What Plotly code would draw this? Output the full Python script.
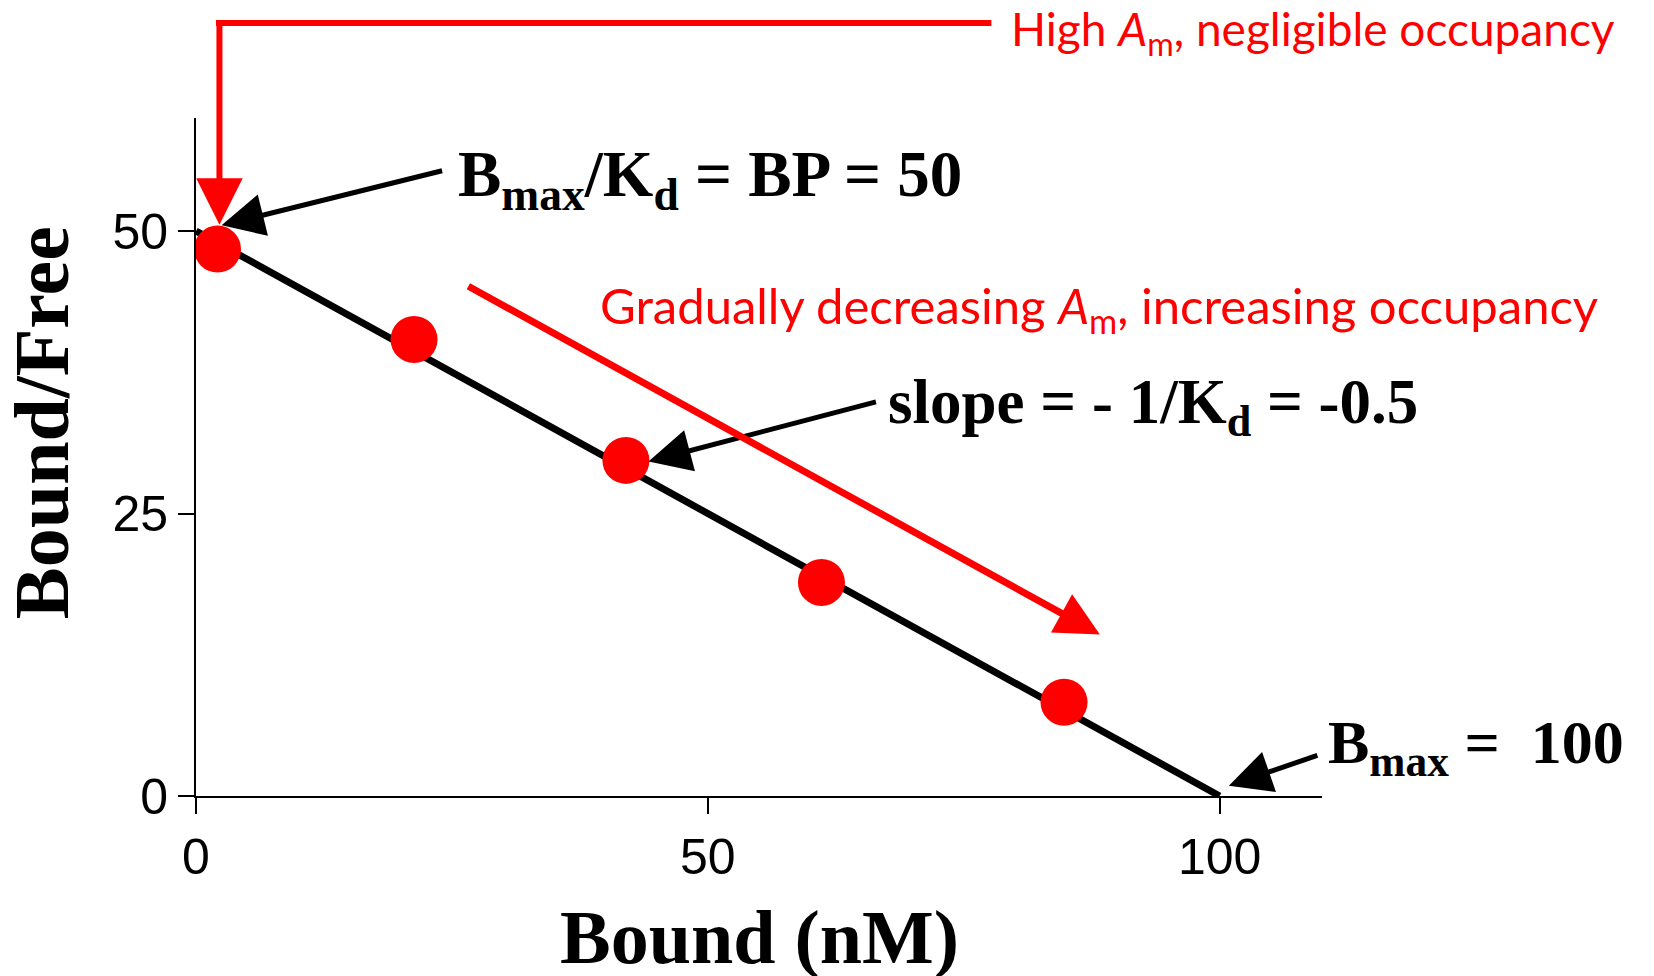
import plotly.graph_objects as go

# ---- data ----
bound = [2.1, 21.3, 42.0, 61.1, 84.8]
bound_free = [48.4, 40.4, 29.7, 18.9, 8.3]
line_bound = [0, 100]
line_bf = [50, 0]
x_ticks = [0, 50, 100]
y_ticks = [0, 25, 50]

RED = "#FF0000"
SERIF = "Liberation Serif"
SANS = "Liberation Sans"
CAL = "Lato"

fig = go.Figure()
fig.add_trace(go.Scatter(x=line_bound, y=line_bf, mode="lines",
                         line=dict(color="black", width=7), showlegend=False,
                         hoverinfo="skip"))
fig.add_trace(go.Scatter(x=bound, y=bound_free, mode="markers",
                         marker=dict(color=RED, size=47, line=dict(width=0)),
                         showlegend=False))

ann = []
# black arrows
for tx, ty, axp, ayp in [(2.5, 50.5, 222, -55), (44.2, 29.6, 229, -60), (100.9, 0.9, 90, -31)]:
    ann.append(dict(x=tx, y=ty, xref="x", yref="y", ax=axp, ay=ayp, text="",
                    showarrow=True, arrowhead=2, arrowsize=1.7, arrowwidth=5,
                    arrowcolor="black", standoff=0))
# black labels
ann.append(dict(x=25.4, y=54.6, xref="x", yref="y", xanchor="left", yanchor="middle",
                text="<b>B<sub>max</sub>/K<sub>d</sub> = BP = 50</b>", showarrow=False,
                font=dict(family=SERIF, size=65, color="black")))
ann.append(dict(x=67.4, y=34.5, xref="x", yref="y", xanchor="left", yanchor="middle",
                text="<b>slope = - 1/K<sub>d</sub> = -0.5</b>", showarrow=False,
                font=dict(family=SERIF, size=63, color="black")))
ann.append(dict(x=1.0036, y=0.0737, xref="paper", yref="paper", xanchor="left",
                yanchor="middle", text="<b>B<sub>max</sub> =  100</b>", showarrow=False,
                font=dict(family=SERIF, size=62, color="black")))
# red arrows
ann.append(dict(x=2.29, y=50.56, xref="x", yref="y", ax=0, ay=-205, text="",
                showarrow=True, arrowhead=2, arrowsize=1.55, arrowwidth=6,
                arrowcolor=RED, standoff=0))
ann.append(dict(x=88.3, y=14.3, xref="x", yref="y", ax=-633, ay=-349, text="",
                showarrow=True, arrowhead=2, arrowsize=1.25, arrowwidth=7,
                arrowcolor=RED, standoff=0))
# red labels
ann.append(dict(x=0.722, y=1.127, xref="paper", yref="paper", xanchor="left",
                yanchor="middle",
                text="High <i>A</i><sub>m</sub>, negligible occupancy", showarrow=False,
                font=dict(family=CAL, size=46, color=RED)))
ann.append(dict(x=39.3, y=43.1, xref="x", yref="y", xanchor="left", yanchor="middle",
                text="Gradually decreasing <i>A</i><sub>m</sub>, increasing occupancy",
                showarrow=False, font=dict(family=CAL, size=49, color=RED)))
# axis titles
ann.append(dict(x=0.5, xref="paper", y=-0.208, yref="paper", yanchor="middle",
                text="<b>Bound (nM)</b>", showarrow=False,
                font=dict(family=SERIF, size=76, color="black")))
ann.append(dict(x=-0.1376, xref="paper", y=0.550, yref="paper", xanchor="center",
                yanchor="middle", textangle=-90,
                text="<b>Bound/Free</b>", showarrow=False,
                font=dict(family=SERIF, size=78, color="black")))

shapes = [dict(type="line", xref="x", yref="paper", x0=1.95, x1=77.7,
               y0=1.140, y1=1.140, line=dict(color=RED, width=6))]

fig.update_layout(
    width=1654, height=976,
    margin=dict(l=188, r=340, t=110, b=188),
    paper_bgcolor="white", plot_bgcolor="white",
    annotations=ann, shapes=shapes,
    xaxis=dict(range=[0, 110], tickvals=x_ticks, showgrid=False, zeroline=False,
               showline=True, linecolor="black", linewidth=2, ticks="outside",
               ticklen=16, tickwidth=2, tickcolor="black",
               tickfont=dict(family=SANS, size=50, color="black")),
    yaxis=dict(range=[0, 60], tickvals=y_ticks, showgrid=False, zeroline=False,
               showline=True, linecolor="black", linewidth=2, ticks="outside",
               ticklen=16, tickwidth=2, tickcolor="black",
               tickfont=dict(family=SANS, size=50, color="black")),
)

fig.write_html("out.html")
